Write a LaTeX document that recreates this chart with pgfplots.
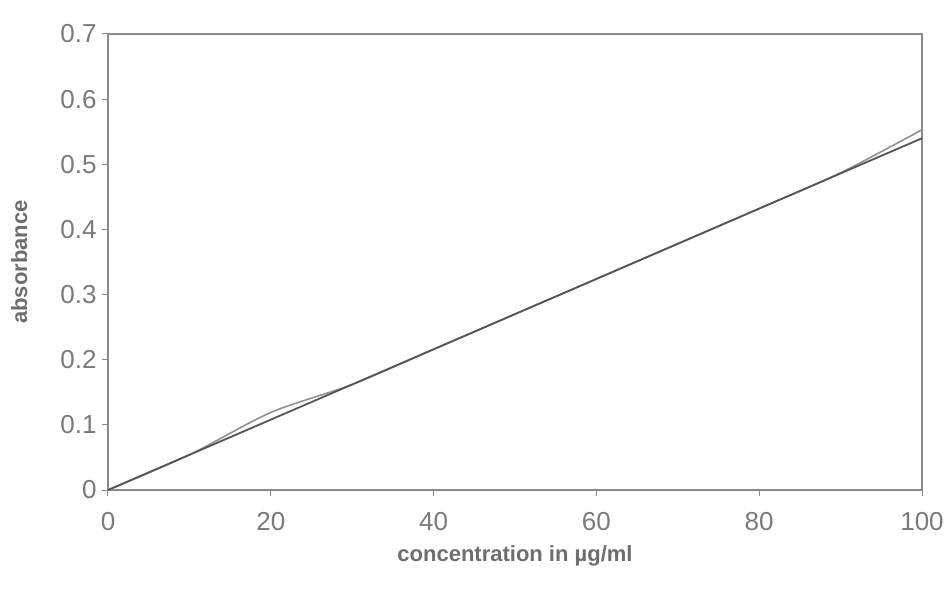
\documentclass[border=0pt]{standalone}
\usepackage{pgfplots}
\pgfplotsset{compat=1.18}
\usepackage{fontspec}
\setmainfont{Liberation Sans}
\definecolor{axgray}{HTML}{8A8A8A}
\definecolor{txtgray}{HTML}{7A7A7A}
\definecolor{lblgray}{HTML}{6E6E6E}
\definecolor{datagray}{HTML}{909090}
\definecolor{trendgray}{HTML}{555555}
\begin{document}
\begin{tikzpicture}
\useasboundingbox (-108pt,-102pt) rectangle (844pt,490pt);
\begin{axis}[
  at={(0pt,0pt)}, anchor=origin,
  scale only axis,
  width=814pt, height=456pt,
  xmin=0, xmax=100, ymin=0, ymax=0.7,
  xtick={0,20,...,100},
  ytick={0,0.1,...,0.7},
  yticklabel style={/pgf/number format/fixed,/pgf/number format/precision=1},
  /pgf/number format/assume math mode=true,
  tick label style={font=\fontsize{26}{28}\selectfont, text=txtgray},
  xticklabel style={yshift=-13pt},
  yticklabel style={xshift=-2pt},
  axis line style={axgray, line width=1.2pt},
  tick style={axgray, line width=1pt},
  tick align=outside,
  major tick length=6pt,
  xtick pos=bottom, ytick pos=left,
  xlabel={\textbf{concentration in µg/ml}},
  ylabel={\textbf{absorbance}},
  label style={font=\fontsize{22}{24}\selectfont, text=lblgray},
  xlabel style={yshift=-8pt},
  ylabel style={yshift=26pt},
  clip=false,
]
\addplot[datagray, line width=1.6pt, smooth, tension=0.5] coordinates {
  (0,0) (10,0.054) (20,0.119) (30,0.162) (40,0.216) (50,0.270) (60,0.324) (70,0.378) (80,0.432) (90,0.487) (100,0.553)
};
\addplot[trendgray, line width=1.8pt] coordinates {
  (0,0) (100,0.540)
};
\end{axis}
\end{tikzpicture}
\end{document}
